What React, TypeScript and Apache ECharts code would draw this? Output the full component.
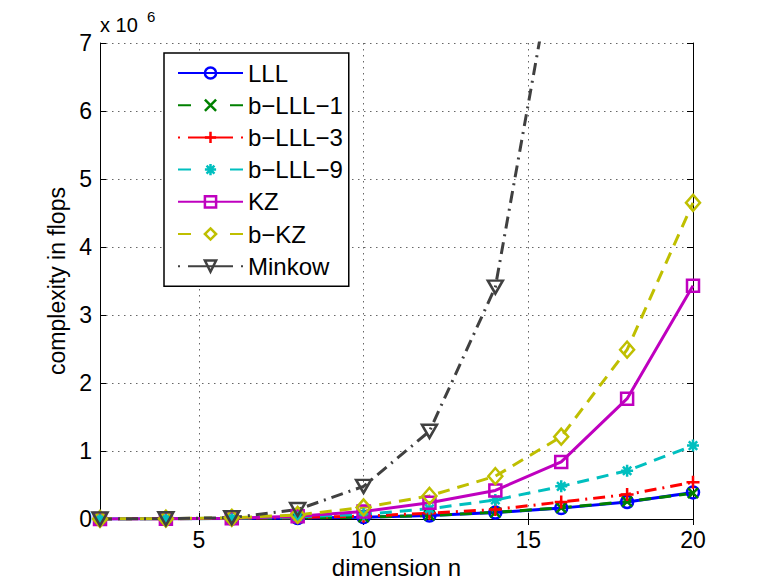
import React, { useEffect, useRef } from "react";
import * as echarts from "echarts";

// Lattice dimension n
const dims = [2, 4, 6, 8, 10, 12, 14, 16, 18, 20];

// Complexity (flops) per algorithm
const lll = [600, 2500, 7000, 14000, 27000, 50000, 95000, 160000, 250000, 390000];
const bLll1 = [700, 2800, 7500, 15000, 28000, 52000, 97000, 165000, 255000, 380000];
const bLll3 = [800, 3500, 10000, 22000, 42000, 85000, 140000, 250000, 360000, 540000];
const bLll9 = [900, 4000, 13000, 32000, 70000, 150000, 280000, 480000, 710000, 1080000];
const kz = [1000, 4000, 12000, 40000, 110000, 240000, 420000, 840000, 1770000, 3430000];
const bKz = [1200, 5000, 18000, 60000, 170000, 340000, 630000, 1210000, 2490000, 4650000];
const minkow = [1000, 4000, 20000, 140000, 480000, 1290000, 3410000, 8800000, 21000000, 50000000];

const seriesNames = ["LLL", "b−LLL−1", "b−LLL−3", "b−LLL−9", "KZ", "b−KZ", "Minkow"];
const yTicks = [0, 1, 2, 3, 4, 5, 6, 7];

const FONT = "'Liberation Sans', Arial, Helvetica, sans-serif";

// Outline markers (stroked, hollow)
const CIRCLE = "path://M6,0A6,6 0 1,1 6,12A6,6 0 1,1 6,0Z";
const CROSS = "path://M0,0L10,10M10,0L0,10";
const PLUS = "path://M6,0L6,12M0,6L12,6";
const STAR = "path://M6,0L6,12M0,6L12,6M1.8,1.8L10.2,10.2M10.2,1.8L1.8,10.2";
const SQUARE = "path://M0,0L12,0L12,12L0,12Z";
const DIAMOND = "path://M7,0L14,8L7,16L0,8Z";
const TRI_DOWN = "path://M0,0L14,0L7,12Z";

const DASH = [12, 8];
const DASHDOT = [12, 6, 2, 6];

// Legend sample strokes (65px long)
const LEGEND_DASH = [13, 39];
const LEGEND_DASHDOT = [2, 8, 45, 8, 2, 10];
const legendDash = [null, LEGEND_DASH, LEGEND_DASHDOT, LEGEND_DASH, null, LEGEND_DASH, LEGEND_DASHDOT];

function mk(
  name: string,
  values: number[],
  color: string,
  lineType: any,
  symbol: string,
  symbolSize: number | number[]
) {
  return {
    name,
    type: "line",
    data: dims.map((d, i) => [d, values[i]]),
    symbol,
    symbolSize,
    showAllSymbol: true,
    clip: true,
    lineStyle: { color, width: 3, type: lineType },
    itemStyle: { color: "rgba(0,0,0,0)", borderColor: color, borderWidth: 2.5 },
    emphasis: { disabled: true },
  };
}

export default function App() {
  const ref = useRef<HTMLDivElement>(null);

  useEffect(() => {
    if (!ref.current) return;
    const chart = echarts.init(ref.current, undefined, { renderer: "svg" });

    const axisCommon = {
      axisLine: { show: true, lineStyle: { color: "#000", width: 1 } },
      axisTick: { show: true, inside: true, length: 6, lineStyle: { color: "#000" } },
    };
    const gridLine = { show: true, lineStyle: { color: "#666", type: [1.5, 4.5], width: 1 } };

    chart.setOption({
      animation: false,
      backgroundColor: "#fff",
      textStyle: { fontFamily: FONT },
      grid: { left: 100, right: 72, top: 43, bottom: 67, containLabel: false },
      legend: {
        orient: "vertical",
        left: 164,
        top: 53,
        data: seriesNames.map((name, i) =>
          legendDash[i] ? { name, lineStyle: { type: legendDash[i] } } : { name }
        ),
        itemWidth: 65,
        itemHeight: 14,
        itemGap: 8.2,
        padding: [8, 6, 8, 13],
        borderColor: "#000",
        borderWidth: 1.5,
        backgroundColor: "#fff",
        itemStyle: { borderWidth: 2.5 },
        textStyle: { fontSize: 24, color: "#000", fontFamily: FONT, lineHeight: 24 },
        selectedMode: false,
      },
      xAxis: [
        {
          type: "value",
          min: 2,
          max: 20,
          splitNumber: 4,
          minInterval: 5,
          maxInterval: 5,
          position: "bottom",
          name: "dimension n",
          nameLocation: "middle",
          nameGap: 36,
          nameTextStyle: { fontSize: 24, color: "#000", fontFamily: FONT },
          ...axisCommon,
          axisLabel: {
            fontSize: 23,
            color: "#000",
            margin: 9,
            fontFamily: FONT,
            showMinLabel: false,
          },
          splitLine: gridLine,
        },
        {
          type: "value",
          min: 2,
          max: 20,
          splitNumber: 4,
          minInterval: 5,
          maxInterval: 5,
          position: "top",
          ...axisCommon,
          axisLabel: { show: false },
          splitLine: { show: false },
        },
      ],
      yAxis: [
        {
          type: "value",
          min: 0,
          max: 7e6,
          interval: 1e6,
          position: "left",
          name: "complexity in flops",
          nameLocation: "middle",
          nameGap: 32,
          nameTextStyle: { fontSize: 23, color: "#000", fontFamily: FONT },
          ...axisCommon,
          axisLabel: {
            fontSize: 23,
            color: "#000",
            margin: 8,
            fontFamily: FONT,
            formatter: (v: number) => String(yTicks[Math.round(v / 1e6)] ?? v / 1e6),
          },
          splitLine: gridLine,
        },
        {
          type: "value",
          min: 0,
          max: 7e6,
          interval: 1e6,
          position: "right",
          ...axisCommon,
          axisLabel: { show: false },
          splitLine: { show: false },
        },
      ],
      graphic: [
        {
          type: "text",
          x: 100,
          y: 35,
          style: {
            text: "x 10",
            fontSize: 20,
            fontFamily: FONT,
            fill: "#000",
            verticalAlign: "bottom",
          },
        },
        {
          type: "text",
          x: 147,
          y: 24,
          style: {
            text: "6",
            fontSize: 15,
            fontFamily: FONT,
            fill: "#000",
            verticalAlign: "bottom",
          },
        },
      ],
      series: [
        mk(seriesNames[0], lll, "#0000ff", "solid", CIRCLE, 12),
        mk(seriesNames[1], bLll1, "#008000", DASH, CROSS, 10),
        mk(seriesNames[2], bLll3, "#ff0000", DASHDOT, PLUS, 13),
        mk(seriesNames[3], bLll9, "#00bfbf", DASH, STAR, 12),
        mk(seriesNames[4], kz, "#bf00bf", "solid", SQUARE, 12),
        mk(seriesNames[5], bKz, "#bfbf00", DASH, DIAMOND, [14, 16]),
        mk(seriesNames[6], minkow, "#404040", DASHDOT, TRI_DOWN, [15, 13]),
      ],
    });

    return () => chart.dispose();
  }, []);

  return (
    <div
      ref={ref}
      style={{ width: 765, height: 586, position: "absolute", left: 0, top: 0 }}
    />
  );
}
